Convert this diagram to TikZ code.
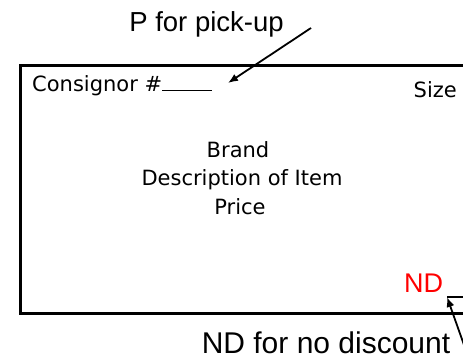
\documentclass[tikz,border=0pt]{standalone}
\usepackage{fontspec}
\newfontfamily\labelfont{Liberation Sans}
\newfontfamily\cardfont{DejaVu Sans}
\usetikzlibrary{arrows.meta}

\begin{document}
\begin{tikzpicture}[x=1pt, y=-1pt,
every node/.style={%anchor=base,
    inner sep=0pt
    },
callout/.style={font=\labelfont\fontsize{27.5}{30}\selectfont},
cardtext/.style={font=\cardfont\fontsize{21}{25}\selectfont},
pointer/.style={line width=1.8pt, -{Latex[length=10pt,width=8pt]}}
]
\useasboundingbox (0,0) rectangle (463,359);
\clip (0,0) rectangle (463,359);

% the tag
\draw [line width=3pt] (20,65) rectangle (490,313);

\node (pick) [callout, anchor=base] at (206.5,31) {P for pick-up};
\node (consignor) [cardtext, anchor=base west] at (32,91) {Consignor \#\rule{50pt}{1pt}};
\node (size) [cardtext, anchor=base east] at (457,97) {Size};
\node (brand) [cardtext, anchor=base] at (238,157) {Brand};
\node (descr) [cardtext, anchor=base] at (242,185) {Description of Item};
\node (price) [cardtext, anchor=base] at (240,214) {Price};
\node (nd) [callout, anchor=base west, font=\labelfont\fontsize{27}{30}\selectfont, text=red] at (404,292) {ND};
\node (nodisc) [callout, anchor=base, font=\labelfont\fontsize{30}{32}\selectfont] at (326,353) {ND for no discount};

\coordinate (pickfoot) at (311,28);
\coordinate (consignortip) at (228,83);
\coordinate (ndfoot) at (469,359);
\coordinate (ndtip) at (447,297);

\draw [pointer] (pickfoot) -- (consignortip);
\draw [pointer] (ndfoot) -- (ndtip);
\draw [line width=1.8pt] (ndtip) -- ++(25,0);

\end{tikzpicture}
\end{document}
